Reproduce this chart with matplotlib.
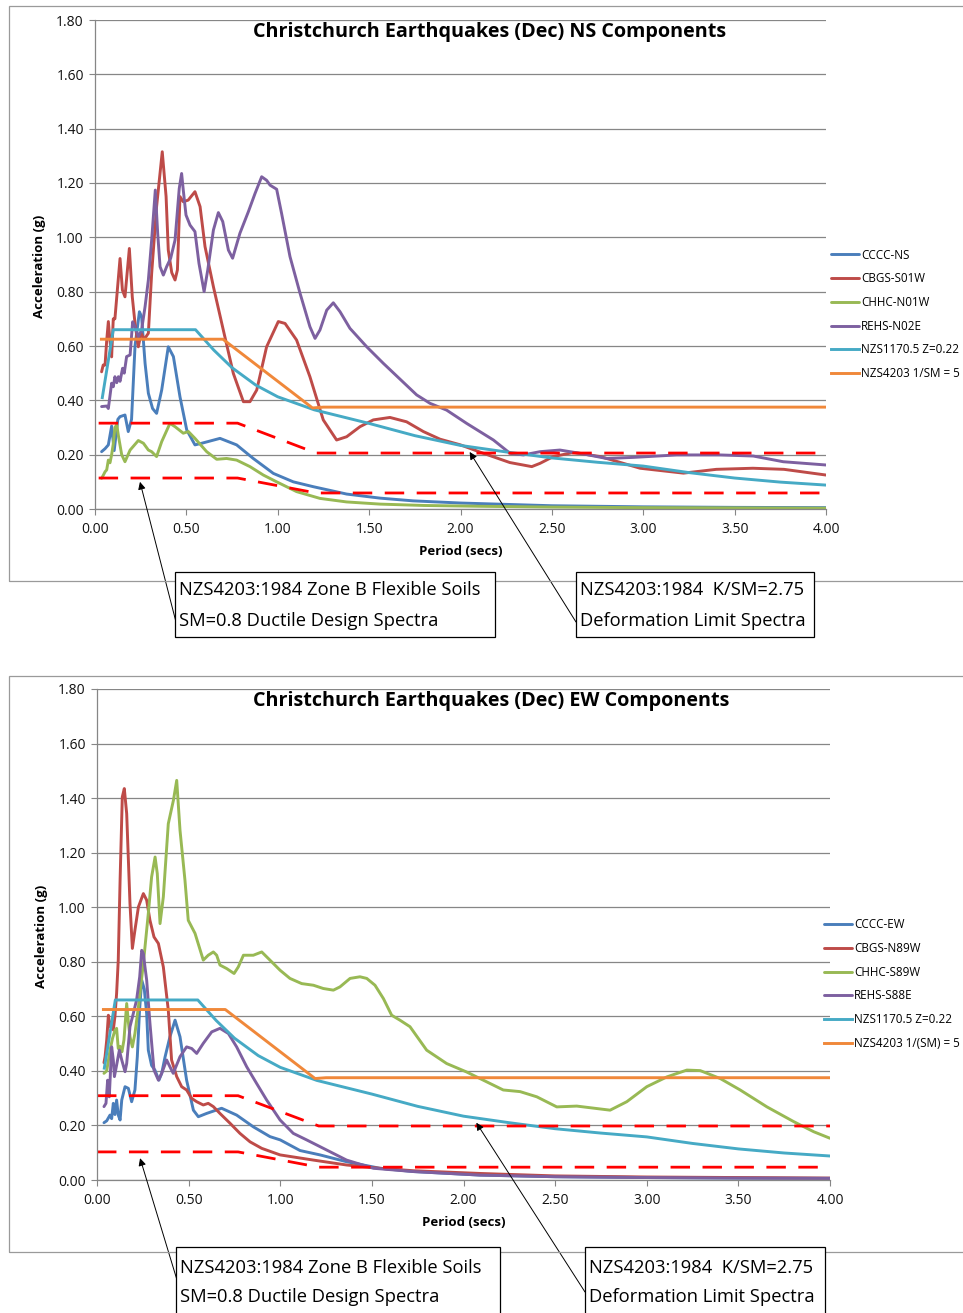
import matplotlib
matplotlib.use("Agg")
import matplotlib.pyplot as plt
from matplotlib.patches import Rectangle

plt.rcParams['font.family'] = ['Open Sans', 'DejaVu Sans']

W, H = 963, 1313

# ---------------------------------------------------------
# NS components (top chart)
# ---------------------------------------------------------
ns_cccc_t = [0.036, 0.055, 0.073, 0.091, 0.105, 0.125, 0.137, 0.164, 0.182, 0.20, 0.219, 0.243, 0.255,
             0.274, 0.292, 0.315, 0.337, 0.365, 0.401, 0.429, 0.465, 0.502, 0.547, 0.584, 0.684, 0.775,
             0.866, 0.976, 1.085, 1.195, 1.377, 1.56, 1.74, 2.0, 2.5, 3.0, 3.5, 4.0]
ns_cccc = [0.211, 0.222, 0.236, 0.305, 0.215, 0.33, 0.34, 0.346, 0.285, 0.33, 0.60, 0.726, 0.708,
           0.536, 0.426, 0.37, 0.352, 0.438, 0.597, 0.561, 0.413, 0.291, 0.236, 0.242, 0.26, 0.236,
           0.186, 0.131, 0.10, 0.082, 0.055, 0.04, 0.03, 0.022, 0.012, 0.008, 0.006, 0.005]

ns_cbgs_t = [0.036, 0.045, 0.055, 0.064, 0.073, 0.082, 0.091, 0.10, 0.109, 0.119,
             0.137, 0.15, 0.164, 0.188, 0.204, 0.219, 0.237, 0.252, 0.27, 0.292,
             0.31, 0.337, 0.368, 0.389, 0.401, 0.42, 0.438, 0.451, 0.465, 0.483,
             0.51, 0.547, 0.575, 0.602, 0.648, 0.702, 0.757, 0.812, 0.848, 0.885,
             0.939, 1.003, 1.04, 1.103, 1.176, 1.249, 1.322, 1.377, 1.45, 1.523,
             1.614, 1.705, 1.797, 1.888, 2.0, 2.125, 2.27, 2.39, 2.435, 2.508,
             2.618, 2.764, 2.983, 3.22, 3.40, 3.60, 3.77, 4.0]
ns_cbgs = [0.505, 0.53, 0.53, 0.62, 0.69, 0.62, 0.56, 0.70, 0.70, 0.78,
           0.922, 0.806, 0.781, 0.959, 0.781, 0.683, 0.597, 0.647, 0.625, 0.647,
           0.867, 1.113, 1.315, 1.15, 0.953, 0.87, 0.843, 0.88, 1.15, 1.131,
           1.137, 1.168, 1.113, 0.966, 0.818, 0.659, 0.499, 0.395, 0.395, 0.438,
           0.597, 0.69, 0.683, 0.622, 0.487, 0.328, 0.254, 0.266, 0.303, 0.328,
           0.337, 0.321, 0.285, 0.257, 0.236, 0.205, 0.171, 0.156, 0.168, 0.193,
           0.208, 0.193, 0.15, 0.132, 0.146, 0.15, 0.146, 0.125]

ns_chhc_t = [0.036, 0.046, 0.055, 0.064, 0.073, 0.082, 0.091, 0.10, 0.109, 0.119,
             0.128, 0.146, 0.164, 0.192, 0.237, 0.265, 0.292, 0.31, 0.337, 0.365,
             0.41, 0.438, 0.483, 0.511, 0.547, 0.611, 0.666, 0.72, 0.775, 0.848,
             0.921, 0.994, 1.103, 1.231, 1.377, 1.56, 1.8, 2.107, 2.5, 3.0, 3.5, 4.0]
ns_chhc = [0.113, 0.125, 0.137, 0.144, 0.18, 0.17, 0.2, 0.24, 0.30, 0.31,
           0.27, 0.20, 0.174, 0.217, 0.252, 0.242, 0.217, 0.211, 0.193, 0.248,
           0.315, 0.303, 0.279, 0.285, 0.26, 0.211, 0.183, 0.186, 0.18, 0.156,
           0.125, 0.1, 0.064, 0.039, 0.026, 0.018, 0.013, 0.01, 0.007, 0.005, 0.004, 0.003]

ns_rehs_t = [0.036, 0.064, 0.073, 0.091, 0.10, 0.109, 0.119, 0.128, 0.137, 0.151,
             0.16, 0.173, 0.192, 0.206, 0.219, 0.237, 0.255, 0.274, 0.292, 0.31,
             0.33, 0.343, 0.356, 0.374, 0.392, 0.414, 0.438, 0.461, 0.474, 0.483,
             0.498, 0.52, 0.547, 0.569, 0.597, 0.617, 0.648, 0.675, 0.699, 0.73,
             0.753, 0.793, 0.839, 0.876, 0.912, 0.939, 0.958, 0.994, 1.021, 1.067,
             1.122, 1.176, 1.204, 1.231, 1.268, 1.304, 1.341, 1.395, 1.487, 1.578,
             1.669, 1.76, 1.833, 1.924, 2.034, 2.18, 2.271, 2.344, 2.435, 2.544,
             2.654, 2.8, 2.946, 3.183, 3.42, 3.602, 3.766, 4.0]
ns_rehs = [0.377, 0.379, 0.37, 0.463, 0.45, 0.487, 0.465, 0.487, 0.47, 0.518,
           0.50, 0.561, 0.567, 0.689, 0.671, 0.634, 0.659, 0.745, 0.843, 0.99,
           1.174, 1.015, 0.892, 0.861, 0.892, 0.923, 0.99, 1.18, 1.235, 1.174,
           1.082, 1.045, 1.021, 0.904, 0.80, 0.88, 1.027, 1.091, 1.058, 0.953,
           0.923, 1.015, 1.094, 1.162, 1.223, 1.21, 1.192, 1.177, 1.088, 0.929,
           0.794, 0.671, 0.628, 0.659, 0.732, 0.759, 0.726, 0.665, 0.597, 0.536,
           0.478, 0.42, 0.389, 0.364, 0.315, 0.254, 0.205, 0.199, 0.211, 0.217,
           0.205, 0.186, 0.19, 0.199, 0.199, 0.195, 0.174, 0.162]

# ---------------------------------------------------------
# EW components (bottom chart)
# ---------------------------------------------------------
ew_cccc_t = [0.038, 0.053, 0.071, 0.08, 0.089, 0.098, 0.107, 0.116, 0.126, 0.135,
             0.153, 0.171, 0.189, 0.207, 0.22, 0.232, 0.244, 0.258, 0.271, 0.28,
             0.298, 0.316, 0.338, 0.353, 0.371, 0.398, 0.426, 0.453, 0.489, 0.526,
             0.553, 0.598, 0.68, 0.762, 0.853, 0.944, 1.0, 1.108, 1.217, 1.362,
             1.544, 1.726, 2.09, 2.5, 3.0, 3.5, 4.0]
ew_cccc = [0.21, 0.217, 0.238, 0.225, 0.281, 0.24, 0.293, 0.238, 0.22, 0.293,
           0.342, 0.336, 0.287, 0.33, 0.452, 0.62, 0.733, 0.70, 0.61, 0.476,
           0.42, 0.403, 0.366, 0.391, 0.45, 0.525, 0.586, 0.525, 0.366, 0.256,
           0.232, 0.244, 0.263, 0.238, 0.195, 0.159, 0.147, 0.108, 0.092, 0.067,
           0.043, 0.031, 0.018, 0.012, 0.009, 0.007, 0.006]

ew_cbgs_t = [0.038, 0.044, 0.053, 0.062, 0.071, 0.08, 0.089, 0.098, 0.107, 0.116,
             0.126, 0.138, 0.149, 0.162, 0.18, 0.193, 0.207, 0.226, 0.253, 0.271,
             0.289, 0.311, 0.335, 0.362, 0.389, 0.407, 0.435, 0.462, 0.489, 0.517,
             0.544, 0.58, 0.607, 0.635, 0.671, 0.726, 0.78, 0.835, 0.899, 0.999,
             1.181, 1.362, 1.544, 1.726, 2.09, 2.5, 3.0, 3.5, 4.0]
ew_cbgs = [0.43, 0.452, 0.513, 0.604, 0.562, 0.58, 0.55, 0.60, 0.684, 0.806,
           1.099, 1.404, 1.435, 1.343, 1.013, 0.849, 0.916, 1.001, 1.05, 1.026,
           0.952, 0.891, 0.867, 0.781, 0.623, 0.44, 0.379, 0.342, 0.33, 0.299,
           0.287, 0.275, 0.281, 0.269, 0.244, 0.208, 0.171, 0.14, 0.116, 0.092,
           0.073, 0.055, 0.043, 0.034, 0.024, 0.015, 0.011, 0.009, 0.007]

ew_chhc_t = [0.038, 0.053, 0.071, 0.085, 0.098, 0.107, 0.116, 0.126, 0.136, 0.147,
             0.162, 0.171, 0.18, 0.193, 0.207, 0.226, 0.253, 0.28, 0.298, 0.317,
             0.329, 0.344, 0.362, 0.389, 0.417, 0.435, 0.453, 0.48, 0.498, 0.535,
             0.58, 0.607, 0.635, 0.653, 0.671, 0.708, 0.748, 0.771, 0.799, 0.853,
             0.899, 0.944, 0.999, 1.053, 1.117, 1.181, 1.235, 1.29, 1.326, 1.381,
             1.435, 1.472, 1.517, 1.563, 1.608, 1.653, 1.708, 1.799, 1.908, 2.017,
             2.108, 2.217, 2.309, 2.4, 2.509, 2.618, 2.727, 2.8, 2.891, 3.0,
             3.11, 3.219, 3.292, 3.401, 3.51, 3.656, 3.802, 3.911, 4.0]
ew_chhc = [0.391, 0.40, 0.476, 0.52, 0.549, 0.556, 0.482, 0.49, 0.47, 0.513,
           0.647, 0.58, 0.525, 0.488, 0.537, 0.635, 0.794, 0.977, 1.111, 1.184,
           1.123, 0.94, 1.038, 1.306, 1.392, 1.465, 1.282, 1.099, 0.952, 0.904,
           0.806, 0.824, 0.836, 0.824, 0.788, 0.775, 0.757, 0.781, 0.824, 0.824,
           0.836, 0.806, 0.769, 0.739, 0.72, 0.714, 0.702, 0.696, 0.708, 0.739,
           0.745, 0.739, 0.714, 0.665, 0.604, 0.586, 0.562, 0.476, 0.427, 0.396,
           0.366, 0.33, 0.324, 0.305, 0.268, 0.271, 0.262, 0.256, 0.287, 0.342,
           0.378, 0.403, 0.401, 0.372, 0.33, 0.268, 0.214, 0.177, 0.153]

ew_rehs_t = [0.038, 0.049, 0.058, 0.067, 0.08, 0.089, 0.095, 0.107, 0.122, 0.135,
             0.153, 0.162, 0.18, 0.198, 0.216, 0.233, 0.244, 0.253, 0.262, 0.271,
             0.289, 0.311, 0.335, 0.353, 0.38, 0.398, 0.416, 0.453, 0.489, 0.517,
             0.544, 0.58, 0.626, 0.671, 0.717, 0.762, 0.817, 0.871, 0.926, 0.999,
             1.071, 1.144, 1.253, 1.362, 1.508, 1.726, 2.09, 2.5, 3.0, 3.5, 4.0]
ew_rehs = [0.269, 0.281, 0.366, 0.305, 0.488, 0.44, 0.379, 0.421, 0.476, 0.44,
           0.397, 0.427, 0.562, 0.61, 0.66, 0.745, 0.842, 0.83, 0.78, 0.733,
           0.574, 0.403, 0.366, 0.391, 0.44, 0.415, 0.391, 0.452, 0.488, 0.482,
           0.464, 0.501, 0.543, 0.556, 0.537, 0.488, 0.415, 0.354, 0.293, 0.22,
           0.171, 0.147, 0.11, 0.073, 0.043, 0.031, 0.018, 0.012, 0.009, 0.007, 0.006]

# ---------------------------------------------------------
# Code spectra (same for both charts except the dashed NZS4203 lines)
# ---------------------------------------------------------
nzs1170_t = [0.04, 0.1, 0.55, 0.65, 0.75, 0.88, 1.0, 1.2, 1.5, 1.75, 2.0, 2.25, 2.5,
             2.75, 3.0, 3.25, 3.5, 3.75, 4.0]
nzs1170 = [0.41, 0.66, 0.66, 0.585, 0.52, 0.456, 0.413, 0.365, 0.315, 0.27, 0.234, 0.21, 0.188,
           0.172, 0.158, 0.134, 0.114, 0.099, 0.088]

nzs4203_t = [0.035, 0.70, 1.19, 1.25, 4.0]
nzs4203 = [0.625, 0.625, 0.372, 0.375, 0.375]

ns_design_t = [0.02, 0.78, 1.21, 4.0]
ns_deform = [0.316, 0.316, 0.206, 0.206]
ns_ductile = [0.114, 0.114, 0.059, 0.059]

ew_design_t = [0.0, 0.77, 1.21, 4.0]
ew_deform = [0.309, 0.309, 0.198, 0.198]
ew_ductile = [0.103, 0.103, 0.047, 0.047]

COLORS = ['#4A7EBB', '#BE4B48', '#98B954', '#7D60A0', '#46AAC5', '#F0883A']
GRID = '#868686'


def fx(x):
    return x / W


def fy(y):
    return 1 - y / H


def draw_panel(fig, rect, series, labels, design, title, title_xy, ylab_xy, leg_anchor):
    ax = fig.add_axes(rect)
    for (t, v), lab, c in zip(series, labels, COLORS):
        ax.plot(t, v, color=c, lw=2.1, label=lab, solid_joinstyle='round', solid_capstyle='round')
    ax.plot(nzs1170_t, nzs1170, color=COLORS[4], lw=2.1, label=labels[4])
    ax.plot(nzs4203_t, nzs4203, color=COLORS[5], lw=2.1, label=labels[5])
    dt, up, lo = design
    ax.plot(dt, up, color='#FF0000', lw=2.0, dashes=(7, 4.5))
    ax.plot(dt, lo, color='#FF0000', lw=2.0, dashes=(7, 4.5))

    ax.set_xlim(0, 4)
    ax.set_ylim(0, 1.8)
    ax.set_xticks([0, 0.5, 1, 1.5, 2, 2.5, 3, 3.5, 4])
    ax.set_yticks([0, 0.2, 0.4, 0.6, 0.8, 1.0, 1.2, 1.4, 1.6, 1.8])
    ax.set_xticklabels(['%.2f' % v for v in ax.get_xticks()])
    ax.set_yticklabels(['%.2f' % v for v in ax.get_yticks()])
    ax.grid(True, axis='y', color=GRID, lw=0.9)
    ax.set_axisbelow(True)
    for s in ['top', 'right']:
        ax.spines[s].set_visible(False)
    for s in ['left', 'bottom']:
        ax.spines[s].set_color(GRID)
        ax.spines[s].set_linewidth(0.9)
    ax.tick_params(axis='both', direction='out', length=4, color=GRID, labelsize=10, labelcolor='#111111')
    ax.tick_params(axis='x', pad=5)
    ax.tick_params(axis='y', pad=4)
    ax.set_xlabel('Period (secs)', fontsize=9.5, fontweight='bold', labelpad=6)

    fig.text(fx(ylab_xy[0]), fy(ylab_xy[1]), 'Acceleration (g)', rotation=90,
             ha='center', va='center', fontsize=9.5, fontweight='bold')
    fig.text(fx(title_xy[0]), fy(title_xy[1]), title, ha='center', va='center',
             fontsize=14.2, fontweight='bold')

    ax.legend(loc='center left', bbox_to_anchor=leg_anchor, frameon=False, fontsize=8.4,
              handlelength=2.4, handletextpad=0.15, labelspacing=0.92, borderpad=0, borderaxespad=0)
    return ax


def note_box(fig, ax, x0, y0, x1, y1, lines, tip, start):
    fig.add_artist(Rectangle((fx(x0), fy(y1)), (x1 - x0) / W, (y1 - y0) / H,
                             transform=fig.transFigure, facecolor='white',
                             edgecolor='black', lw=0.9, zorder=5))
    for (ty, txt) in lines:
        fig.text(fx(x0 + 4), fy(ty), txt, ha='left', va='center', fontsize=13.2, zorder=6)
    ax.annotate('', xy=tip, xycoords='data', xytext=(fx(start[0]), fy(start[1])),
                textcoords='figure fraction', annotation_clip=False,
                arrowprops=dict(arrowstyle='-|>', color='black', lw=0.7, mutation_scale=11,
                                shrinkA=0, shrinkB=0))


fig = plt.figure(figsize=(W / 100, H / 100), dpi=100)

# chart area frames
fig.add_artist(Rectangle((fx(9), fy(581)), (980 - 9) / W, (581 - 6) / H, transform=fig.transFigure,
                         fill=False, edgecolor='#9A9A9A', lw=0.9))
fig.add_artist(Rectangle((fx(9), fy(1252)), (980 - 9) / W, (1252 - 676) / H, transform=fig.transFigure,
                         fill=False, edgecolor='#9A9A9A', lw=0.9))

ns_labels = ['CCCC-NS', 'CBGS-S01W', 'CHHC-N01W', 'REHS-N02E', 'NZS1170.5 Z=0.22', 'NZS4203 1/SM = 5']
ew_labels = ['CCCC-EW', 'CBGS-N89W', 'CHHC-S89W', 'REHS-S88E', 'NZS1170.5 Z=0.22', 'NZS4203 1/(SM) = 5']

ax1 = draw_panel(fig, [fx(95), fy(509), (826 - 95) / W, (509 - 20) / H],
                 [(ns_cccc_t, ns_cccc), (ns_cbgs_t, ns_cbgs), (ns_chhc_t, ns_chhc), (ns_rehs_t, ns_rehs)],
                 ns_labels, (ns_design_t, ns_deform, ns_ductile),
                 'Christchurch Earthquakes (Dec) NS Components', (490, 32), (40, 266), (1.007, 0.398))

ax2 = draw_panel(fig, [fx(97), fy(1180), (830 - 97) / W, (1180 - 689) / H],
                 [(ew_cccc_t, ew_cccc), (ew_cbgs_t, ew_cbgs), (ew_chhc_t, ew_chhc), (ew_rehs_t, ew_rehs)],
                 ew_labels, (ew_design_t, ew_deform, ew_ductile),
                 'Christchurch Earthquakes (Dec) EW Components', (491, 701), (42, 936), (0.992, 0.399))

# callout boxes
note_box(fig, ax1, 175, 572, 495, 637,
         [(590, 'NZS4203:1984 Zone B Flexible Soils'), (621, 'SM=0.8 Ductile Design Spectra')],
         (0.246, 0.10), (176, 622))
note_box(fig, ax1, 576, 572, 814, 637,
         [(590, 'NZS4203:1984  K/SM=2.75'), (621, 'Deformation Limit Spectra')],
         (2.05, 0.21), (576, 622))
note_box(fig, ax2, 176, 1247, 500, 1330,
         [(1268, 'NZS4203:1984 Zone B Flexible Soils'), (1297, 'SM=0.8 Ductile Design Spectra')],
         (0.235, 0.08), (177, 1280))
note_box(fig, ax2, 585, 1247, 825, 1330,
         [(1268, 'NZS4203:1984  K/SM=2.75'), (1297, 'Deformation Limit Spectra')],
         (2.07, 0.21), (585, 1292))

fig.savefig('out.png', dpi=100)
